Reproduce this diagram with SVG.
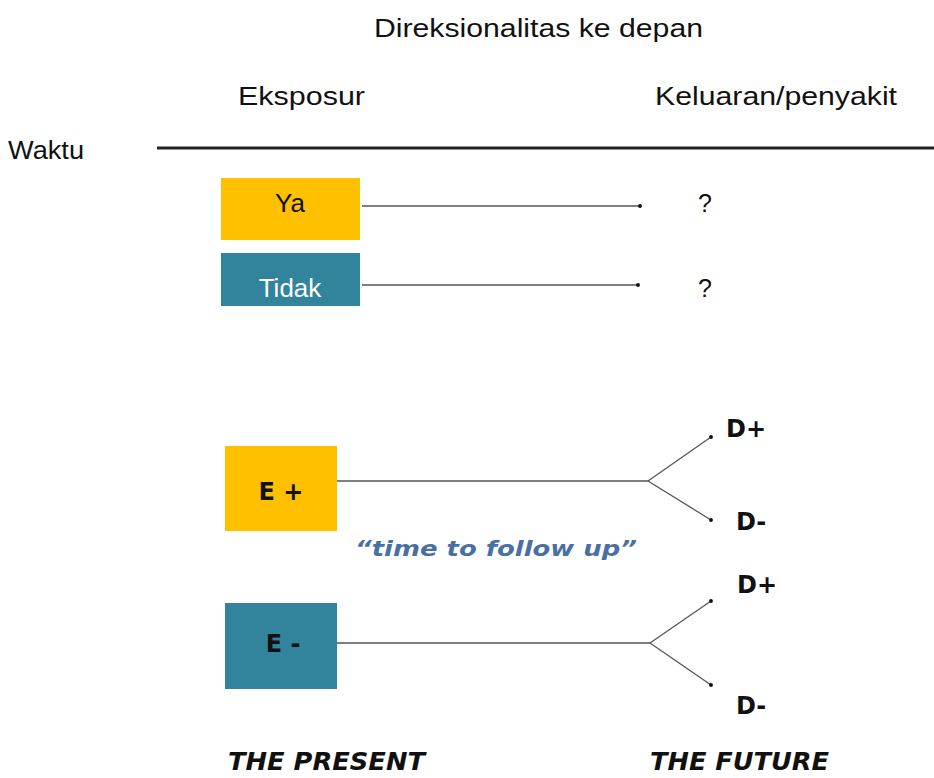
<svg xmlns="http://www.w3.org/2000/svg" width="934" height="778" viewBox="0 0 934 778">
  <style>
    .lbl { font-family: "Liberation Sans", Arial, sans-serif; font-size: 25px; fill: #111; }
    .box { font-family: "Liberation Sans", Arial, sans-serif; font-size: 26px; }
    .bold { font-family: "DejaVu Sans", Verdana, sans-serif; font-weight: bold; font-size: 24px; fill: #111; }
    .era { font-family: "DejaVu Sans", Verdana, sans-serif; font-weight: bold; font-style: italic; font-size: 24px; fill: #111; }
    .note { font-family: "DejaVu Sans", Verdana, sans-serif; font-weight: bold; font-style: italic; font-size: 22px; fill: #4a6fa5; }
    .yes { fill: #ffc000; }
    .no { fill: #31849b; }
    .conn { stroke: #555; stroke-width: 1.3; fill: none; }
  </style>
  <defs>
    <marker id="dot" viewBox="0 0 4 4" refX="2" refY="2" markerWidth="3" markerHeight="3" markerUnits="strokeWidth">
      <circle cx="2" cy="2" r="2" fill="#111"/>
    </marker>
  </defs>
  <rect width="934" height="778" fill="#fff"/>

  <!-- headings and time axis -->
  <g id="headings">
    <text class="lbl" x="374" y="37" textLength="329" lengthAdjust="spacingAndGlyphs">Direksionalitas ke depan</text>
    <text class="lbl" x="238" y="105" textLength="127" lengthAdjust="spacingAndGlyphs">Eksposur</text>
    <text class="lbl" x="655" y="105" textLength="242" lengthAdjust="spacingAndGlyphs">Keluaran/penyakit</text>
    <text class="lbl" x="8" y="159" textLength="76" lengthAdjust="spacingAndGlyphs">Waktu</text>
    <line x1="157" y1="148" x2="934" y2="148" stroke="#222" stroke-width="3"/>
  </g>

  <!-- exposure groups -->
  <g id="ya">
    <rect class="yes" x="221" y="178" width="139" height="62"/>
    <text class="box" x="290" y="212" text-anchor="middle" fill="#111">Ya</text>
  </g>
  <g id="tidak">
    <rect class="no" x="221" y="253" width="139" height="53"/>
    <text class="box" x="290" y="297" text-anchor="middle" fill="#fff">Tidak</text>
  </g>
  <g id="outcome-ya"><text class="lbl" x="705" y="212" text-anchor="middle">?</text></g>
  <g id="outcome-tidak"><text class="lbl" x="705" y="297" text-anchor="middle">?</text></g>

  <g id="e-plus">
    <rect class="yes" x="225" y="446" width="112" height="85"/>
    <text class="bold" x="281" y="500" text-anchor="middle">E +</text>
  </g>
  <g id="e-minus">
    <rect class="no" x="225" y="603" width="112" height="86"/>
    <text class="bold" x="283" y="652" text-anchor="middle">E -</text>
  </g>

  <g id="d-plus-1"><text class="bold" x="726" y="437">D+</text></g>
  <g id="d-minus-1"><text class="bold" x="736" y="530">D-</text></g>
  <g id="d-plus-2"><text class="bold" x="737" y="593">D+</text></g>
  <g id="d-minus-2"><text class="bold" x="736" y="714">D-</text></g>

  <g id="follow-up">
    <text class="note" x="355" y="556" textLength="282" lengthAdjust="spacingAndGlyphs">“time to follow up”</text>
  </g>

  <g id="time-labels">
    <text class="era" x="228" y="770" textLength="197" lengthAdjust="spacingAndGlyphs">THE PRESENT</text>
    <text class="era" x="650" y="770" textLength="179" lengthAdjust="spacingAndGlyphs">THE FUTURE</text>
  </g>

  <!-- connectors -->
  <g id="connectors">
    <line class="conn" x1="362" y1="206" x2="640" y2="206" marker-end="url(#dot)"/>
    <line class="conn" x1="362" y1="285" x2="638" y2="285" marker-end="url(#dot)"/>
    <line class="conn" x1="337" y1="481" x2="648" y2="481"/>
    <line class="conn" x1="648" y1="481" x2="711" y2="437" marker-end="url(#dot)"/>
    <line class="conn" x1="648" y1="481" x2="711" y2="520" marker-end="url(#dot)"/>
    <line class="conn" x1="337" y1="643" x2="650" y2="643"/>
    <line class="conn" x1="650" y1="643" x2="711" y2="601" marker-end="url(#dot)"/>
    <line class="conn" x1="650" y1="643" x2="711" y2="685" marker-end="url(#dot)"/>
  </g>
</svg>
